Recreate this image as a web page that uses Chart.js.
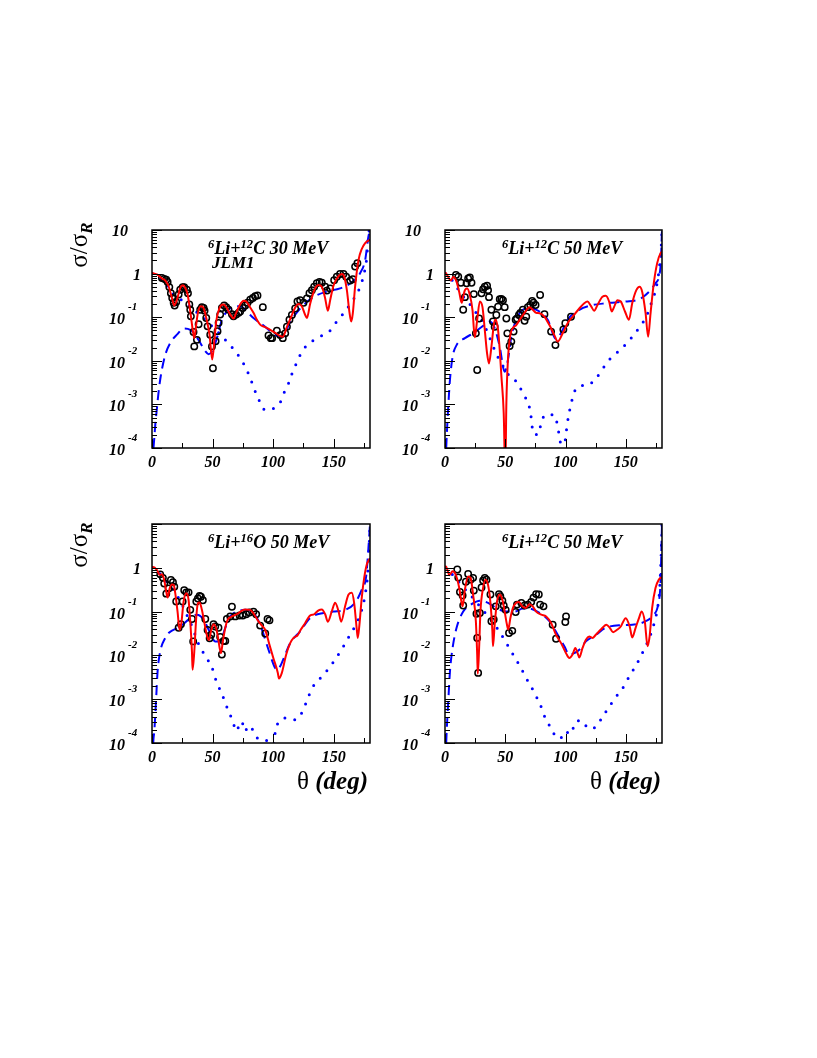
<!DOCTYPE html>
<html>
<head>
<meta charset="utf-8">
<script src="https://cdn.jsdelivr.net/npm/chart.js@4.4.0/dist/chart.umd.min.js"></script>
<style>
  body { margin: 0; background: #fff; }
  #page { position: relative; width: 817px; height: 1058px; overflow: hidden; }
  canvas { position: absolute; }
  .lbl { position: absolute; font-family: "Liberation Serif", "DejaVu Serif", serif; font-weight: bold; font-style: italic; font-size: 18px; line-height: 18px; white-space: nowrap; color: #000; }
  .sup { position: relative; top: -0.45em; font-size: 0.7em; }
  .ytitle { position: absolute; width: 70px; height: 30px; line-height: 30px; text-align: center; font-family: "Liberation Serif", serif; font-size: 25px; transform: rotate(-90deg); white-space: nowrap; }
  .ytitle .sub { position: relative; top: 0.3em; font-size: 0.7em; font-weight: bold; font-style: italic; }
  .xtitle { position: absolute; font-family: "Liberation Serif", serif; font-size: 25px; line-height: 25px; white-space: nowrap; }
  .xtitle i { font-weight: bold; }
</style>
</head>
<body>
<div id="page">
  <canvas id="c1" width="298" height="268" style="left:82px;top:210px"></canvas>
  <canvas id="c2" width="297" height="268" style="left:375px;top:210px"></canvas>
  <canvas id="c3" width="298" height="269" style="left:82px;top:504px"></canvas>
  <canvas id="c4" width="297" height="269" style="left:375px;top:504px"></canvas>

  <div class="lbl" style="left:208px;top:239px"><span class="sup">6</span>Li+<span class="sup">12</span>C 30 MeV</div>
  <div class="lbl" style="left:212px;top:254px;font-size:17px;line-height:17px">JLM1</div>
  <div class="lbl" style="left:502px;top:239px"><span class="sup">6</span>Li+<span class="sup">12</span>C 50 MeV</div>
  <div class="lbl" style="left:208px;top:533px"><span class="sup">6</span>Li+<span class="sup">16</span>O 50 MeV</div>
  <div class="lbl" style="left:502px;top:533px"><span class="sup">6</span>Li+<span class="sup">12</span>C 50 MeV</div>

  <div class="ytitle" style="left:44px;top:230px">σ/σ<span class="sub">R</span></div>
  <div class="ytitle" style="left:44px;top:530px">σ/σ<span class="sub">R</span></div>

  <div class="xtitle" style="right:449px;top:768px">θ <i>(deg)</i></div>
  <div class="xtitle" style="right:156px;top:768px">θ <i>(deg)</i></div>
</div>
<script>
// axis ranges and ticks
var xTicks = [0, 25, 50, 75, 100, 125, 150, 175];
var xTickLabels = [0, 50, 100, 150];
var yDecades = [-4, -3, -2, -1, 0, 1];

// all values are [angle (deg), log10(sigma/sigmaR)]
// panel 1 : 6Li+12C 30 MeV
var p1Data = [[8.2,-0.10],[10.1,-0.12],[11.8,-0.14],[12.9,-0.19],[14.3,-0.31],[15.6,-0.45],[16.7,-0.56],[17.9,-0.67],[18.7,-0.73],[20,-0.65],[22,-0.48],[23.3,-0.37],[25.3,-0.31],[26.6,-0.31],[28.8,-0.37],[29.7,-0.45],[30.8,-0.71],[31.6,-0.83],[32.1,-0.98],[34.3,-1.34],[34.9,-1.67],[37.1,-1.52],[38.5,-1.16],[39.8,-0.83],[41.2,-0.77],[42.6,-0.79],[43.4,-0.85],[44.8,-1.02],[45.9,-1.21],[48.1,-1.40],[49.5,-1.67],[50.3,-2.17],[52.5,-1.55],[54.1,-1.32],[55,-1.13],[56.3,-0.94],[57.7,-0.79],[59.6,-0.73],[61.3,-0.77],[63.2,-0.83],[66,-0.93],[67.3,-0.98],[69.5,-0.94],[71.5,-0.90],[72.8,-0.87],[75,-0.79],[77,-0.73],[78.9,-0.67],[81.1,-0.60],[83.3,-0.56],[85.2,-0.52],[87.1,-0.50],[91.5,-0.77],[96.2,-1.42],[98.1,-1.48],[99.2,-1.48],[103.1,-1.31],[105.8,-1.41],[108,-1.48],[110,-1.37],[111.4,-1.22],[113.5,-1.06],[115.5,-0.95],[118.2,-0.80],[120.1,-0.64],[122.3,-0.61],[125.1,-0.67],[127.9,-0.57],[130,-0.45],[132,-0.38],[133.9,-0.30],[136.1,-0.22],[138.3,-0.19],[140.2,-0.21],[143,-0.30],[144.4,-0.39],[147.1,-0.34],[150.4,-0.15],[152.6,-0.07],[155.3,-0.01],[158.1,-0.01],[160.3,-0.07],[163.6,-0.16],[165.8,-0.13],[167.7,0.16],[169.6,0.24]];
var p1Red = [[0,0.02],[0.8,0.01],[4.1,-0.02],[8.2,-0.11],[11,-0.16],[13.7,-0.29],[16.5,-0.56],[18.4,-0.73],[20.6,-0.60],[23.3,-0.33],[25.5,-0.27],[27.5,-0.33],[29.4,-0.48],[31.6,-0.87],[33.8,-1.32],[34.9,-1.48],[36.5,-1.17],[37.9,-0.90],[40.4,-0.75],[42.6,-0.79],[44.8,-1.02],[47.5,-1.40],[49.7,-1.97],[51.7,-1.48],[53,-1.10],[55,-0.85],[56.9,-0.73],[59.1,-0.71],[61.8,-0.79],[64.6,-0.94],[67.3,-1.03],[69.5,-0.90],[72.3,-0.73],[75.6,-0.62],[77.8,-0.64],[80.5,-0.75],[83.8,-0.90],[86.6,-1.06],[89.3,-1.17],[93.5,-1.23],[97.6,-1.29],[101.7,-1.36],[104.5,-1.41],[108,-1.45],[111.4,-1.22],[115.5,-0.95],[118.2,-0.78],[121,-0.70],[123.7,-0.75],[126.5,-0.95],[127.9,-1.02],[130.6,-0.69],[134.7,-0.34],[137.5,-0.26],[140.2,-0.30],[143,-0.57],[145.2,-0.85],[147.1,-0.61],[149.9,-0.27],[154,-0.06],[156.8,-0.01],[158.7,-0.07],[160.9,-0.38],[163.1,-0.90],[164.5,-1.10],[165.8,-0.91],[167.7,-0.30],[170.5,0.31],[173.3,0.57],[176,0.70],[180,0.78]];
var p1Dashed = [[1.2,-4.0],[1.9,-3.77],[2.7,-3.47],[4.1,-3.08],[5.5,-2.70],[7.4,-2.32],[11,-1.86],[15.1,-1.59],[20.6,-1.40],[26.1,-1.26],[31.6,-1.29],[35.7,-1.40],[39.9,-1.59],[44,-1.78],[46.7,-1.85],[49.5,-1.78],[53.6,-1.48],[57.7,-1.06],[63.2,-0.83],[68.7,-0.75],[72.8,-0.75],[78.3,-0.87],[83.8,-1.02],[92.1,-1.19],[97.6,-1.32],[104.5,-1.44],[108,-1.45],[113.5,-1.14],[122.3,-0.80],[133.9,-0.53],[144.4,-0.41],[155.3,-0.34],[165,-0.20],[171.8,0.01],[176,0.31],[178.7,0.85],[180,1.0]];
var p1Dotted = [[0,0],[5,-0.07],[10,-0.18],[15,-0.40],[20,-0.52],[25,-0.62],[30,-0.72],[34,-0.83],[40,-0.95],[45,-1.08],[50,-1.22],[55,-1.36],[59.1,-1.48],[65.2,-1.66],[70.6,-1.85],[75.1,-2.04],[78.9,-2.25],[81.7,-2.44],[84.7,-2.67],[88.3,-2.90],[92.1,-3.11],[96,-3.13],[99.2,-3.11],[102.5,-3.05],[105.8,-2.96],[109.1,-2.73],[112.7,-2.52],[115.5,-2.30],[119,-2.07],[122.3,-1.87],[127.3,-1.66],[133.9,-1.52],[141,-1.41],[147.7,-1.29],[152,-1.12],[157.6,-0.93],[164.2,-0.68],[171.3,-0.34],[174.6,-0.05],[177.4,0.39],[178.7,0.92],[180,1.0]];

// panel 2 : 6Li+12C 50 MeV
var p2Data = [[9.1,-0.03],[11,-0.07],[13.2,-0.21],[15.1,-0.83],[16.5,-0.54],[17.9,-0.22],[19.2,-0.11],[20.6,-0.09],[22,-0.21],[23.9,-0.47],[25.6,-1.37],[26.7,-2.21],[28.3,-1.03],[30.3,-0.45],[31.6,-0.36],[33,-0.30],[34.9,-0.28],[35.7,-0.38],[36.5,-0.54],[38.5,-0.83],[39.8,-1.10],[41.2,-1.22],[42.6,-0.95],[44,-0.76],[45.4,-0.59],[46.8,-0.58],[48.1,-0.61],[49.5,-0.77],[50.9,-1.03],[51.7,-1.37],[53.6,-1.66],[55,-1.56],[56.9,-1.33],[58.6,-1.06],[59.7,-1.03],[61.3,-0.95],[62.5,-0.90],[64.6,-0.83],[66,-1.08],[67.4,-0.99],[68.7,-0.77],[70.7,-0.72],[72.3,-0.63],[73.4,-0.67],[75.1,-0.72],[78.9,-0.49],[82.5,-0.93],[88,-1.33],[91.6,-1.64],[98.2,-1.28],[99.8,-1.14],[104.5,-0.99]];
var p2Red = [[0,0.02],[0.8,0.01],[2.7,-0.08],[4.7,-0.16],[6.9,-0.08],[9.6,-0.19],[11.8,-0.42],[13.8,-0.67],[15.1,-0.53],[16.5,-0.38],[18.4,-0.34],[20.6,-0.49],[22.8,-0.83],[24.7,-1.46],[26.7,-1.06],[28.9,-0.64],[31.1,-0.77],[33,-1.29],[34.9,-1.83],[36.5,-2.06],[38.5,-1.68],[40.7,-1.14],[42.1,-1.06],[44,-1.29],[45.4,-1.75],[46.8,-2.36],[48.7,-3.20],[50,-4.6],[50.9,-2.98],[52.2,-1.98],[54.2,-1.41],[56.3,-1.25],[59.1,-1.18],[61.9,-1.06],[66,-0.90],[70.1,-0.77],[72.8,-0.83],[75.6,-0.90],[78.4,-0.91],[82.5,-0.99],[86.6,-1.18],[90.7,-1.41],[93.5,-1.56],[97.6,-1.37],[101.7,-1.14],[105.8,-0.99],[111.4,-0.80],[115.5,-0.68],[118.2,-0.64],[121,-0.74],[123.7,-0.85],[126.5,-0.72],[130.6,-0.53],[133.4,-0.51],[136.1,-0.64],[138.3,-0.87],[140.2,-0.77],[143,-0.61],[145.8,-0.64],[149.3,-0.87],[152.6,-1.06],[155.3,-0.68],[158.7,-0.38],[161.4,-0.30],[163.6,-0.42],[166.4,-0.91],[168.5,-1.45],[170.5,-0.91],[173.2,-0.22],[176,0.24],[178.8,0.47],[180,0.50]];
var p2Dashed = [[1.0,-4.0],[1.4,-3.74],[2.7,-3.05],[4.1,-2.44],[6.3,-1.91],[9.6,-1.64],[16.5,-1.48],[23.3,-1.37],[31.6,-1.20],[37.1,-1.10],[41.2,-1.25],[45.4,-1.68],[49.5,-2.25],[52.2,-1.98],[55,-1.45],[59.1,-1.06],[64.6,-0.83],[71.5,-0.80],[78.4,-0.87],[85.2,-1.06],[92.1,-1.50],[97.6,-1.29],[101.7,-1.06],[111.4,-0.83],[119.6,-0.74],[133.4,-0.68],[149.9,-0.64],[160.9,-0.59],[169.1,-0.42],[174.6,-0.22],[178.8,0.16],[180,1.0]];
var p2Dotted = [[0,0],[5,-0.12],[8.8,-0.27],[12.7,-0.44],[17.6,-0.60],[22,-0.75],[27,-0.95],[32,-1.15],[36,-1.40],[39.8,-1.66],[44,-1.92],[50,-2.20],[55.5,-2.42],[58.3,-2.45],[62.1,-2.61],[66,-2.81],[69.3,-3.0],[71.2,-3.24],[72,-3.46],[74,-3.69],[77.5,-3.69],[79.5,-3.46],[83,-3.24],[87,-3.24],[90.5,-3.24],[93.2,-3.46],[94.6,-3.69],[96,-3.91],[98.5,-4.05],[100.4,-3.66],[102.6,-3.24],[104.5,-3.01],[106.4,-2.78],[110.8,-2.58],[118.2,-2.56],[124.6,-2.42],[129.3,-2.25],[134.2,-2.04],[140.2,-1.87],[145.8,-1.74],[152,-1.56],[157.6,-1.37],[162,-1.20],[166.9,-0.99],[172.4,-0.57],[175.1,-0.34],[177.9,0.16],[179.3,0.6],[180,1.0]];

// panel 3 : 6Li+16O 50 MeV
var p3Data = [[6.8,-0.15],[9,-0.23],[10.1,-0.36],[11.8,-0.59],[13.7,-0.47],[15.6,-0.28],[17.3,-0.33],[18.4,-0.43],[20,-0.77],[22,-1.37],[23.9,-1.29],[25.3,-0.77],[26.6,-0.51],[28.3,-0.56],[30.2,-0.56],[31.6,-0.96],[33,-1.17],[34,-1.68],[36.6,-0.77],[37.9,-0.70],[39.3,-0.64],[40.4,-0.66],[42,-0.74],[44,-1.17],[45.9,-1.42],[47.6,-1.61],[48.9,-1.53],[50.8,-1.29],[52.2,-1.34],[54.9,-1.37],[56.3,-1.58],[57.7,-1.98],[59.1,-1.67],[60.5,-1.67],[61.8,-1.17],[64.6,-1.11],[66,-0.89],[68.7,-1.11],[72.3,-1.09],[75,-1.09],[77.8,-1.06],[80.5,-1.02],[83.8,-1.00],[86,-1.06],[89.3,-1.32],[93.5,-1.50],[95.4,-1.17],[97,-1.20]];
var p3Red = [[0,0.02],[0.8,0.02],[4.1,-0.05],[6.3,-0.16],[8.2,-0.15],[10.1,-0.28],[11.8,-0.55],[12.9,-0.68],[14.6,-0.47],[16.5,-0.38],[17.9,-0.39],[19.2,-0.58],[21.1,-1.0],[22.8,-1.42],[24.2,-1.27],[26.1,-0.77],[28.3,-0.58],[30.2,-0.73],[31.6,-1.23],[33,-1.92],[33.5,-2.33],[34.9,-1.92],[36.5,-1.15],[37.9,-0.81],[39.3,-0.79],[41.2,-0.96],[43.1,-1.23],[45.3,-1.54],[47,-1.65],[48.6,-1.46],[50.8,-1.29],[52.5,-1.34],[54.4,-1.57],[55.8,-1.82],[56.9,-1.95],[58.5,-1.68],[60.5,-1.37],[62.4,-1.19],[66,-1.11],[70.1,-1.06],[74.2,-0.98],[76.9,-0.95],[81.1,-0.96],[83.8,-1.04],[87.1,-1.19],[90.7,-1.32],[93.5,-1.42],[97,-1.76],[100.3,-2.07],[103.9,-2.40],[104.8,-2.53],[107.2,-2.40],[110.8,-1.98],[114.1,-1.72],[116.9,-1.60],[120.2,-1.54],[122.9,-1.41],[126.5,-1.26],[130.1,-1.10],[133.9,-1.06],[137.5,-0.97],[140.2,-0.95],[143,-1.06],[145.2,-1.23],[148.5,-0.99],[151.2,-0.80],[154,-0.99],[156.2,-1.23],[159.5,-0.87],[162.3,-0.61],[165,-0.57],[166.9,-0.80],[169.1,-1.41],[169.9,-1.60],[171.3,-1.29],[173.2,-0.68],[175.2,-0.23],[177.4,0.08],[180,0.22]];
var p3Dashed = [[1.0,-4.0],[1.3,-3.88],[1.9,-3.73],[3.3,-3.05],[4.6,-2.37],[6.8,-1.91],[11,-1.60],[13.7,-1.49],[23.3,-1.34],[31.6,-1.15],[37.1,-1.07],[42.6,-1.18],[46.7,-1.41],[52.2,-1.68],[56.3,-1.68],[60.5,-1.37],[64.6,-1.11],[70.1,-1.0],[77,-0.96],[83.8,-1.03],[89.3,-1.30],[96.2,-1.87],[101.7,-2.29],[103.5,-2.33],[105.8,-2.25],[110,-1.98],[114.1,-1.72],[122.3,-1.45],[130.6,-1.15],[141.6,-1.03],[149.8,-1.0],[159.5,-0.96],[167.7,-0.80],[173.2,-0.50],[176.8,-0.20],[178.7,0.45],[180,1.0]];
var p3Dotted = [[0,0],[5,-0.10],[10,-0.25],[15,-0.42],[20,-0.60],[25,-0.85],[30,-1.15],[34,-1.40],[37.1,-1.65],[41.2,-1.88],[45.3,-2.07],[49.5,-2.27],[51.7,-2.48],[55,-2.71],[58.6,-2.94],[62.4,-3.22],[66.8,-3.51],[69.5,-3.73],[72,-3.60],[74.2,-3.51],[76.4,-3.73],[80.5,-3.60],[83.8,-3.73],[87.4,-3.89],[90.7,-3.89],[95,-3.95],[100.3,-4.05],[101.7,-3.77],[104.5,-3.52],[111.4,-3.43],[118.2,-3.47],[122.9,-3.35],[126.5,-3.13],[129.2,-2.94],[132.5,-2.73],[138.3,-2.54],[144.4,-2.35],[149.3,-2.17],[153.9,-1.98],[158.1,-1.79],[162.2,-1.59],[166.9,-1.37],[173.2,-0.96],[176,-0.61],[177.9,-0.20],[179.3,0.5],[180,1.0]];

// panel 4 : 6Li+12C 50 MeV
var p4Data = [[10.2,-0.04],[11,-0.22],[12.4,-0.55],[14.6,-0.63],[15.1,-0.86],[17.3,-0.32],[19.2,-0.14],[21.2,-0.27],[23.3,-0.23],[23.9,-0.52],[26.1,-1.05],[26.7,-1.60],[27.5,-2.40],[28.9,-1.03],[30.3,-0.45],[31.6,-0.29],[33,-0.23],[34.4,-0.27],[37.7,-0.61],[38.5,-1.22],[40.4,-1.18],[42.1,-0.88],[44.8,-0.60],[45.9,-0.65],[47.6,-0.75],[48.7,-0.86],[50.3,-0.96],[53.1,-1.49],[55.8,-1.44],[58.6,-1.01],[59.7,-0.84],[63.3,-0.80],[66,-0.86],[68.7,-0.84],[71.5,-0.78],[73.4,-0.68],[75.6,-0.60],[77.8,-0.61],[78.9,-0.84],[81.7,-0.88],[89.3,-1.30],[92.1,-1.62],[99.8,-1.24],[100.4,-1.11]];
var p4Red = [[0,0.03],[0.8,0.03],[3.6,-0.17],[6.3,-0.08],[9.1,-0.17],[11.8,-0.46],[13.8,-0.80],[14.6,-0.88],[16.5,-0.50],[19.2,-0.20],[21.2,-0.23],[23.3,-0.61],[25.6,-1.22],[26.7,-1.98],[27.2,-2.42],[28.3,-1.83],[29.4,-1.0],[31.6,-0.46],[33.6,-0.27],[35.7,-0.39],[37.7,-0.80],[39.3,-1.45],[39.8,-1.79],[41.2,-1.30],[43.1,-0.78],[45.4,-0.61],[47.6,-0.73],[49.5,-1.0],[51.4,-1.30],[52.5,-1.41],[54.2,-1.15],[56.3,-0.92],[59.1,-0.80],[61.3,-0.78],[64.1,-0.88],[66.8,-0.92],[70.1,-0.83],[72.8,-0.88],[75.6,-1.0],[79.8,-1.07],[83.9,-1.11],[88,-1.26],[92.1,-1.53],[96.3,-1.72],[100.4,-1.95],[103.1,-2.06],[105.8,-1.98],[108.1,-1.83],[110,-1.95],[111.4,-2.05],[114.1,-1.83],[116.9,-1.64],[119.6,-1.57],[122.3,-1.60],[125.1,-1.53],[129.3,-1.41],[133.9,-1.30],[136.7,-1.37],[139.4,-1.47],[143,-1.41],[145.8,-1.34],[149.9,-1.15],[153.2,-1.34],[155.3,-1.59],[158.1,-1.37],[160.9,-1.15],[163.1,-1.0],[165.8,-1.24],[168,-1.79],[169.7,-1.57],[171.8,-0.92],[174.6,-0.46],[177.4,-0.27],[180,-0.21]];
var p4Dashed = [[1.0,-4.0],[1.4,-3.73],[2.7,-3.05],[4.1,-2.37],[6.3,-1.83],[9.6,-1.37],[15.1,-1.0],[22,-0.83],[28.9,-0.75],[35.7,-0.80],[42.6,-0.92],[50.9,-1.0],[57.7,-1.0],[64.6,-0.93],[70.1,-0.93],[78.4,-1.03],[86.6,-1.22],[93.5,-1.53],[99,-1.79],[103.1,-1.98],[107.2,-1.95],[111.4,-1.87],[116.9,-1.68],[125.1,-1.53],[133.4,-1.37],[144.4,-1.31],[155.3,-1.30],[166.4,-1.22],[173.2,-1.07],[176.8,-0.84],[178.8,-0.31],[180,1.0]];
var p4Dotted = [[0,0],[5,-0.12],[8.8,-0.24],[12.6,-0.36],[17,-0.50],[22,-0.65],[28,-0.85],[34,-1.05],[40,-1.25],[45,-1.45],[50.9,-1.72],[55,-1.91],[59.1,-2.10],[63.3,-2.30],[67.4,-2.52],[71.5,-2.71],[75.1,-2.91],[78.9,-3.11],[81.7,-3.34],[85.2,-3.52],[88.8,-3.72],[94.3,-3.90],[97.5,-3.85],[100.4,-3.73],[103,-3.80],[105.3,-3.75],[108.1,-3.52],[113.6,-3.49],[119.1,-3.67],[126.5,-3.60],[130.6,-3.39],[136.1,-3.19],[140.2,-2.99],[145.8,-2.82],[149.9,-2.63],[154,-2.42],[158.1,-2.25],[162.3,-2.02],[165.8,-1.83],[172.4,-1.37],[176,-0.96],[177.9,-0.54],[179.3,0.3],[180,1.0]];

function pts(arr) {
    return arr.map(function (p) { return { x: p[0], y: Math.pow(10, p[1]) }; });
}

var FONT = '"Liberation Serif", "DejaVu Serif", serif';

// frame, tick marks and tick labels, ROOT style
var framePlugin = {
    id: 'frame',
    afterDraw: function (chart, args, opts) {
        var ctx = chart.ctx, a = chart.chartArea, x = chart.scales.x, y = chart.scales.y;
        ctx.save();
        ctx.strokeStyle = '#000';
        ctx.lineWidth = 1;
        ctx.beginPath();
        // y ticks: decades long, 2..9 short
        yDecades.forEach(function (e) {
            for (var m = 1; m <= 9; m++) {
                var v = m * Math.pow(10, e);
                if (v > 10.0001) break;
                var py = Math.round(y.getPixelForValue(v)) + 0.5;
                var len = (m === 1) ? 10 : 5;
                ctx.moveTo(a.left, py);
                ctx.lineTo(a.left + len, py);
            }
        });
        xTicks.forEach(function (t) {
            var px = Math.round(x.getPixelForValue(t)) + 0.5;
            var len = (t % 50 === 0) ? 9 : 5;
            ctx.moveTo(px, a.bottom);
            ctx.lineTo(px, a.bottom - len);
        });
        ctx.stroke();
        ctx.lineWidth = 1.5;
        ctx.strokeRect(a.left, a.top, a.right - a.left, a.bottom - a.top);

        ctx.fillStyle = '#000';
        ctx.textBaseline = 'alphabetic';
        yDecades.forEach(function (e) {
            if (e === 1 && !opts.showTop) return;
            var py = y.getPixelForValue(Math.pow(10, e));
            ctx.font = 'italic bold 16px ' + FONT;
            if (e === 0) {
                ctx.textAlign = 'right';
                ctx.fillText('1', a.left - 11, py + 6);
            } else if (e === 1) {
                ctx.textAlign = 'right';
                ctx.fillText('10', a.left - 24, py + 6);
            } else {
                ctx.textAlign = 'right';
                ctx.fillText('10', a.left - 27, py + 7);
                ctx.font = 'italic bold 11px ' + FONT;
                ctx.textAlign = 'left';
                ctx.fillText(String(e), a.left - 24, py - 7);
            }
        });
        ctx.font = 'italic bold 16px ' + FONT;
        ctx.textAlign = 'center';
        xTickLabels.forEach(function (t) {
            ctx.fillText(String(t), x.getPixelForValue(t), a.bottom + 19);
        });
        ctx.restore();
    }
};

function makePanel(id, data, red, dashed, dotted, showTop) {
    return new Chart(document.getElementById(id), {
        type: 'line',
        data: {
            datasets: [
                {
                    data: pts(red), borderColor: '#ff0000', borderWidth: 2,
                    pointRadius: 0, cubicInterpolationMode: 'monotone', order: 0
                },
                {
                    data: pts(data), showLine: false, pointStyle: 'circle', pointRadius: 3.2,
                    pointBorderWidth: 1.5, pointBorderColor: '#000', pointBackgroundColor: 'rgba(0,0,0,0)', order: 1
                },
                {
                    data: pts(dashed), borderColor: '#0000ff', borderWidth: 2, borderDash: [10, 6],
                    pointRadius: 0, cubicInterpolationMode: 'monotone', order: 2
                },
                {
                    data: pts(dotted), borderColor: '#0000ff', borderWidth: 3, borderDash: [0, 10],
                    borderCapStyle: 'round', pointRadius: 0, cubicInterpolationMode: 'monotone', order: 3
                }
            ]
        },
        options: {
            responsive: false,
            animation: false,
            devicePixelRatio: 1,
            layout: { padding: { left: 70, top: 20, right: 10, bottom: 30 } },
            plugins: { legend: { display: false }, tooltip: { enabled: false }, frame: { showTop: showTop } },
            scales: {
                x: { type: 'linear', min: 0, max: 180, display: false },
                y: { type: 'logarithmic', min: 1e-4, max: 10, display: false }
            }
        },
        plugins: [framePlugin]
    });
}

makePanel('c1', p1Data, p1Red, p1Dashed, p1Dotted, true);
makePanel('c2', p2Data, p2Red, p2Dashed, p2Dotted, true);
makePanel('c3', p3Data, p3Red, p3Dashed, p3Dotted, false);
makePanel('c4', p4Data, p4Red, p4Dashed, p4Dotted, false);
</script>
</body>
</html>
